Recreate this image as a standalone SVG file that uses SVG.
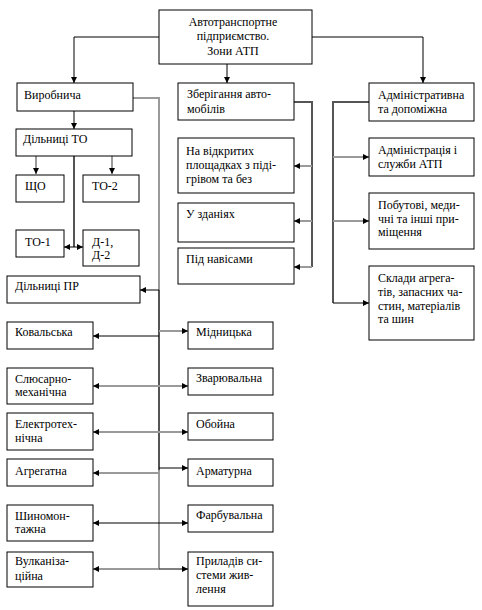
<svg xmlns="http://www.w3.org/2000/svg" width="482" height="610" viewBox="0 0 482 610">
<style>
.b{fill:#fff;stroke:#000;stroke-width:1}
text{font-family:'Liberation Serif','DejaVu Serif',serif;font-size:12px;fill:#000}
.k{stroke:#000;stroke-width:1;fill:none}
.g{stroke:#9a9a9a;stroke-width:2;fill:none}
.d{stroke:#555;stroke-width:2;fill:none}
</style>
<defs>
<marker id="a" viewBox="0 0 6 6" refX="6" refY="3" markerWidth="6" markerHeight="6" markerUnits="userSpaceOnUse" orient="auto"><path d="M0,0 L6,3 L0,6 Z" fill="#000"/></marker>
</defs>
<g id="connectors">
<path class="k" d="M159,37 H74 V83" marker-end="url(#a)"/>
<path class="k" d="M312,37 H423 V83" marker-end="url(#a)"/>
<path class="k" d="M227,64 V83" marker-end="url(#a)"/>
<path class="k" d="M74,111 V129" marker-end="url(#a)"/>
<path class="g" d="M36,156 V174" marker-end="url(#a)"/>
<path class="g" d="M112,156 V174" marker-end="url(#a)"/>
<path class="d" d="M74,156 V247"/>
<path class="k" d="M74,247 H64" marker-end="url(#a)"/>
<path class="k" d="M74,247 H83" marker-end="url(#a)"/>
<path class="g" d="M133,98 H159 V290"/>
<path class="d" d="M159,290 V470"/>
<path class="g" d="M159,470 V569"/>
<path class="k" d="M159,290 H140" marker-end="url(#a)"/>
<path class="k" d="M159,336 H93" marker-end="url(#a)"/>
<path class="g" d="M159,331 H188" marker-end="url(#a)"/>
<path class="g" d="M159,386 H93" marker-end="url(#a)"/>
<path class="g" d="M159,386 H188" marker-end="url(#a)"/>
<path class="g" d="M159,432 H93" marker-end="url(#a)"/>
<path class="g" d="M159,432 H188" marker-end="url(#a)"/>
<path class="g" d="M159,473 H93" marker-end="url(#a)"/>
<path class="k" d="M159,468 H188" marker-end="url(#a)"/>
<path class="k" d="M159,523 H93" marker-end="url(#a)"/>
<path class="k" d="M159,523 H188" marker-end="url(#a)"/>
<path class="g" d="M159,569 H93" marker-end="url(#a)"/>
<path class="k" d="M159,569 H188" marker-end="url(#a)"/>
<path class="d" d="M294,102 H312 V267"/>
<path class="g" d="M312,166 H294" marker-end="url(#a)"/>
<path class="g" d="M312,221 H294" marker-end="url(#a)"/>
<path class="g" d="M312,267 H294" marker-end="url(#a)"/>
<path class="d" d="M369,102 H333 V303"/>
<path class="g" d="M333,157 H369" marker-end="url(#a)"/>
<path class="g" d="M333,221 H369" marker-end="url(#a)"/>
<path class="k" d="M333,303 H369" marker-end="url(#a)"/>
</g>
<g font-family="Liberation Serif, serif" font-size="12">
<g id="n-atp"><rect class="b" x="159" y="10" width="153" height="54"/>
<text x="233" y="26" text-anchor="middle">Автотранспортне</text>
<text x="233" y="40" text-anchor="middle">підприємство.</text>
<text x="233" y="55" text-anchor="middle">Зони АТП</text></g>
<g id="n-vyrob"><rect class="b" x="17" y="83" width="116" height="28"/><text x="24" y="99">Виробнича</text></g>
<g id="n-zberig"><rect class="b" x="178" y="83" width="116" height="37"/><text x="187" y="98">Зберігання авто-</text><text x="187" y="113">мобілів</text></g>
<g id="n-admin"><rect class="b" x="369" y="83" width="105" height="38"/><text x="378" y="99">Адміністративна</text><text x="378" y="113">та допоміжна</text></g>
<g id="n-dto"><rect class="b" x="16" y="129" width="116" height="27"/><text x="23" y="143">Дільниці ТО</text></g>
<g id="n-shcho"><rect class="b" x="16" y="175" width="48" height="27"/><text x="25" y="190">ЩО</text></g>
<g id="n-to2"><rect class="b" x="83" y="175" width="56" height="27"/><text x="92" y="190">ТО-2</text></g>
<g id="n-to1"><rect class="b" x="16" y="230" width="48" height="27"/><text x="25" y="246">ТО-1</text></g>
<g id="n-d12"><rect class="b" x="83" y="230" width="56" height="36"/><text x="92" y="246">Д-1,</text><text x="92" y="259">Д-2</text></g>
<g id="n-vidkr"><rect class="b" x="178" y="138" width="116" height="55"/><text x="186" y="155">На відкритих</text><text x="186" y="169">площадках з піді-</text><text x="186" y="183">грівом та без</text></g>
<g id="n-zdan"><rect class="b" x="178" y="203" width="116" height="39"/><text x="186" y="218">У зданіях</text></g>
<g id="n-naves"><rect class="b" x="178" y="248" width="116" height="36"/><text x="186" y="263">Під навісами</text></g>
<g id="n-adm-sl"><rect class="b" x="369" y="138" width="105" height="38"/><text x="378" y="154">Адміністрація і</text><text x="378" y="168">служби АТП</text></g>
<g id="n-pobut"><rect class="b" x="369" y="193" width="105" height="56"/><text x="378" y="209">Побутові, меди-</text><text x="378" y="223">чні та інші при-</text><text x="378" y="236">міщення</text></g>
<g id="n-sklady"><rect class="b" x="369" y="266" width="105" height="74"/><text x="378" y="282">Склади агрега-</text><text x="378" y="296">тів, запасних ча-</text><text x="378" y="310">стин, матеріалів</text><text x="378" y="323">та шин</text></g>
<g id="n-dpr"><rect class="b" x="7" y="276" width="133" height="27"/><text x="15" y="290">Дільниці ПР</text></g>
<g id="n-koval"><rect class="b" x="7" y="322" width="86" height="27"/><text x="15" y="336">Ковальська</text></g>
<g id="n-midn"><rect class="b" x="188" y="322" width="85" height="27"/><text x="196" y="336">Мідницька</text></g>
<g id="n-slus"><rect class="b" x="7" y="368" width="86" height="36"/><text x="15" y="383">Слюсарно-</text><text x="15" y="396">механічна</text></g>
<g id="n-zvar"><rect class="b" x="188" y="368" width="85" height="27"/><text x="196" y="382">Зварювальна</text></g>
<g id="n-elektr"><rect class="b" x="7" y="413" width="86" height="37"/><text x="15" y="428">Електротех-</text><text x="15" y="442">нічна</text></g>
<g id="n-oboyna"><rect class="b" x="188" y="413" width="85" height="27"/><text x="196" y="428">Обойна</text></g>
<g id="n-agreg"><rect class="b" x="7" y="459" width="86" height="27"/><text x="15" y="475">Агрегатна</text></g>
<g id="n-armat"><rect class="b" x="188" y="459" width="85" height="27"/><text x="196" y="475">Арматурна</text></g>
<g id="n-shyn"><rect class="b" x="7" y="505" width="86" height="36"/><text x="15" y="520">Шиномон-</text><text x="15" y="533">тажна</text></g>
<g id="n-farb"><rect class="b" x="188" y="505" width="85" height="27"/><text x="196" y="519">Фарбувальна</text></g>
<g id="n-vulk"><rect class="b" x="7" y="552" width="86" height="35"/><text x="15" y="565">Вулканіза-</text><text x="15" y="580">ційна</text></g>
<g id="n-prylad"><rect class="b" x="188" y="552" width="85" height="54"/><text x="196" y="565">Приладів си-</text><text x="196" y="579">стеми жив-</text><text x="196" y="593">лення</text></g>
</g>
</svg>
